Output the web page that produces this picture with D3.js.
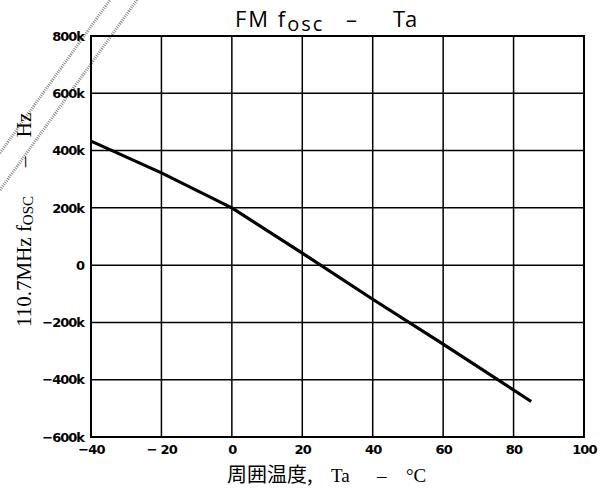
<!DOCTYPE html>
<html>
<head>
<meta charset="utf-8">
<script src="https://cdn.jsdelivr.net/npm/d3@7"></script>
<style>
  html, body { margin: 0; padding: 0; background: #fff; }
  svg { display: block; }
</style>
</head>
<body>
<svg id="chart" width="602" height="491"></svg>
<script>
// Oscillator frequency deviation at 110.7 MHz versus ambient temperature
const temperature = [-40, -20, 0, 20, 40, 60, 85];          // °C
const deviationK  = [433, 322, 200, 42, -119, -276, -476];  // kHz

const xTicks = [-40, -20, 0, 20, 40, 60, 80, 100];
const xTickLabels = ["\u221240", "\u2212 20", "0", "20", "40", "60", "80", "100"];
const yTicks = [800, 600, 400, 200, 0, -200, -400, -600];
const yTickLabels = ["800k", "600k", "400k", "200k", "0", "\u2212200k", "\u2212400k", "\u2212600k"];

const svg = d3.select("#chart");
const plot = { left: 91, right: 584, top: 36, bottom: 437 };

const x = d3.scaleLinear().domain([-40, 100]).range([plot.left, plot.right]);
const y = d3.scaleLinear().domain([-600, 800]).range([plot.bottom, plot.top]);

// faint hatched diagonal strokes in the upper-left margin
const deco = svg.append("g").attr("stroke", "#8a8a8a").attr("stroke-width", 3)
  .attr("stroke-dasharray", "1,1.2").attr("fill", "none");
deco.append("line").attr("x1", 0).attr("y1", 153).attr("x2", 110).attr("y2", 0);
deco.append("line").attr("x1", 0).attr("y1", 190).attr("x2", 137).attr("y2", 0);

// grid lines
const grid = svg.append("g").attr("stroke", "#000").attr("stroke-width", 1.5);
grid.selectAll("line.v").data(xTicks.slice(1, -1)).join("line")
  .attr("class", "v")
  .attr("x1", d => x(d)).attr("x2", d => x(d))
  .attr("y1", plot.top).attr("y2", plot.bottom);
grid.selectAll("line.h").data(yTicks.slice(1, -1)).join("line")
  .attr("class", "h")
  .attr("y1", d => y(d)).attr("y2", d => y(d))
  .attr("x1", plot.left).attr("x2", plot.right);

// frame
svg.append("rect")
  .attr("x", plot.left).attr("y", plot.top)
  .attr("width", plot.right - plot.left).attr("height", plot.bottom - plot.top)
  .attr("fill", "none").attr("stroke", "#000").attr("stroke-width", 2);

// axes (labels only; ticks are the grid)
const xAxis = d3.axisBottom(x).tickValues(xTicks)
  .tickFormat((d, i) => xTickLabels[i]).tickSize(0).tickPadding(8);
const gx = svg.append("g").attr("transform", `translate(0,${plot.bottom})`).call(xAxis);
gx.select(".domain").remove();
gx.selectAll("text")
  .attr("font-family", "'DejaVu Sans', sans-serif")
  .attr("font-weight", "bold").attr("font-size", 13)
  .attr("fill", "#000").attr("letter-spacing", "-0.8");

const yAxis = d3.axisLeft(y).tickValues(yTicks)
  .tickFormat((d, i) => yTickLabels[i]).tickSize(0).tickPadding(7);
const gy = svg.append("g").attr("transform", `translate(${plot.left},0)`).call(yAxis);
gy.select(".domain").remove();
gy.selectAll("text")
  .attr("font-family", "'DejaVu Sans', sans-serif")
  .attr("font-weight", "bold").attr("font-size", 13)
  .attr("fill", "#000").attr("letter-spacing", "-1");

// curve
const line = d3.line().x((d, i) => x(temperature[i])).y(d => y(d));
svg.append("path").datum(deviationK)
  .attr("d", line)
  .attr("fill", "none").attr("stroke", "#000")
  .attr("stroke-width", 3.2).attr("stroke-linejoin", "round");

// title
const title = svg.append("text")
  .attr("x", 235).attr("y", 27)
  .attr("font-family", "'Open Sans', 'Noto Sans', sans-serif")
  .attr("font-size", 22).attr("fill", "#000");
title.append("tspan").attr("letter-spacing", 2).text("FM f");
title.append("tspan").attr("dy", 4).attr("font-size", 20).attr("letter-spacing", 2).text("osc");
title.append("tspan").attr("x", 346).attr("dy", -4).text("\u2013");
title.append("tspan").attr("x", 393).text("Ta");

// y axis label, reading upward
const serif = "'Liberation Serif', 'DejaVu Serif', serif";
const yl = svg.append("text")
  .attr("transform", "translate(31,327) rotate(-90)")
  .attr("font-family", serif).attr("font-size", 21).attr("fill", "#000");
yl.append("tspan").text("110.7MHz f");
yl.append("tspan").attr("font-size", 15).attr("dy", 2).text("OSC");
svg.append("text")
  .attr("transform", "translate(31,162) rotate(-90)")
  .attr("text-anchor", "middle")
  .attr("font-family", serif).attr("font-size", 21).attr("fill", "#000")
  .text("\u2013");
svg.append("text")
  .attr("transform", "translate(31,125) rotate(-90)")
  .attr("text-anchor", "middle")
  .attr("font-family", serif).attr("font-size", 21).attr("fill", "#000")
  .text("Hz");

// x axis label
const xl = svg.append("text")
  .attr("y", 482).attr("fill", "#000").attr("font-size", 19)
  .attr("font-family", serif);
xl.append("tspan").attr("x", 227)
  .attr("font-family", "'Noto Sans CJK JP', sans-serif").attr("font-size", 20)
  .text("周囲温度,");
xl.append("tspan").attr("x", 331).text("Ta");
xl.append("tspan").attr("x", 377).text("\u2013");
xl.append("tspan").attr("x", 406).text("°C");
</script>
</body>
</html>
